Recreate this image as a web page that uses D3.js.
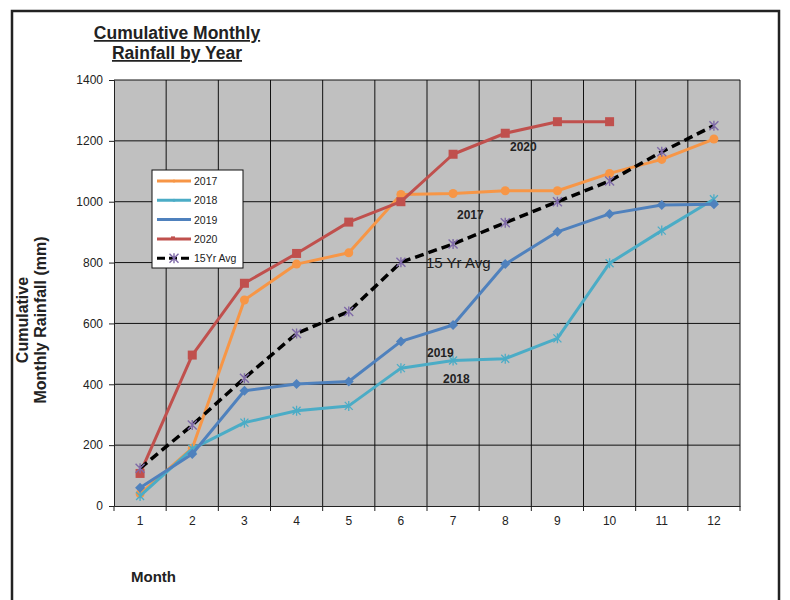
<!DOCTYPE html>
<html>
<head>
<meta charset="utf-8">
<script src="https://cdn.jsdelivr.net/npm/d3@7"></script>
<style>
  html, body { margin: 0; padding: 0; background: #fff; }
  svg { display: block; font-family: "Liberation Sans", Arial, sans-serif; }
</style>
</head>
<body>
<svg id="chart" width="790" height="600"></svg>
<script>
const months = [1, 2, 3, 4, 5, 6, 7, 8, 9, 10, 11, 12];
const yTicks = [0, 200, 400, 600, 800, 1000, 1200, 1400];
const s2017 = [40, 190, 677, 795, 832, 1024, 1027, 1036, 1036, 1093, 1139, 1206];
const s2018 = [33, 188, 274, 313, 329, 453, 478, 484, 551, 798, 905, 1008];
const s2019 = [60, 171, 379, 401, 409, 541, 595, 795, 901, 960, 989, 992];
const s2020 = [107, 496, 732, 830, 933, 1000, 1156, 1225, 1263, 1263, null, null];
const sAvg  = [124, 266, 420, 567, 639, 801, 861, 931, 1000, 1068, 1164, 1250];
const seriesNames = ["2017", "2018", "2019", "2020", "15Yr Avg"];

const series = [
  { name: seriesNames[0], values: s2017, color: "#F79646", marker: "circle", dash: null },
  { name: seriesNames[1], values: s2018, color: "#4BACC6", marker: "x", dash: null },
  { name: seriesNames[2], values: s2019, color: "#4F81BD", marker: "diamond", dash: null },
  { name: seriesNames[3], values: s2020, color: "#C0504D", marker: "square", dash: null },
  { name: seriesNames[4], values: sAvg, color: "#000000", marker: "star", dash: "9,5" }
];

const svg = d3.select("#chart");
const plot = { left: 114, right: 740, top: 80, bottom: 506 };

// outer frame
svg.append("rect").attr("x", 12).attr("y", 11).attr("width", 767).attr("height", 600)
  .attr("fill", "none").attr("stroke", "#222").attr("stroke-width", 2.5);

const x = d3.scaleBand().domain(months).range([plot.left, plot.right]);
const y = d3.scaleLinear().domain([0, 1400]).range([plot.bottom, plot.top]);

// plot background
svg.append("rect").attr("x", plot.left).attr("y", plot.top)
  .attr("width", plot.right - plot.left).attr("height", plot.bottom - plot.top)
  .attr("fill", "#C0C0C0");

// horizontal gridlines
svg.append("g").selectAll("line").data(yTicks.filter(d => d > 0)).join("line")
  .attr("x1", plot.left).attr("x2", plot.right)
  .attr("y1", d => y(d)).attr("y2", d => y(d))
  .attr("stroke", "#111").attr("stroke-width", 1);

// vertical gridlines at band boundaries
const bounds = months.map(m => x(m) + x.bandwidth());
svg.append("g").selectAll("line").data(bounds).join("line")
  .attr("x1", d => d).attr("x2", d => d)
  .attr("y1", plot.top).attr("y2", plot.bottom)
  .attr("stroke", "#111").attr("stroke-width", 1);

// y axis
const yAxis = svg.append("g").attr("transform", `translate(${plot.left},0)`)
  .call(d3.axisLeft(y).tickValues(yTicks).tickFormat(d3.format("d")).tickSize(5).tickPadding(6));
yAxis.select(".domain").attr("stroke", "#222");
yAxis.selectAll(".tick line").attr("stroke", "#222");
yAxis.selectAll("text").attr("font-size", 12).attr("fill", "#222")
  .attr("font-family", "Liberation Sans, Arial, sans-serif");

// x axis
const xAxis = svg.append("g").attr("transform", `translate(0,${plot.bottom})`)
  .call(d3.axisBottom(x).tickSize(0).tickPadding(10));
xAxis.select(".domain").attr("stroke", "#222");
xAxis.selectAll("text").attr("font-size", 12).attr("fill", "#222")
  .attr("font-family", "Liberation Sans, Arial, sans-serif");
// x tick marks at band boundaries
svg.append("g").selectAll("line").data([plot.left].concat(bounds)).join("line")
  .attr("x1", d => d).attr("x2", d => d)
  .attr("y1", plot.bottom).attr("y2", plot.bottom + 5)
  .attr("stroke", "#222");

const cx = m => x(m) + x.bandwidth() / 2;

function drawMarker(g, type, color, px, py) {
  if (type === "circle") {
    g.append("circle").attr("cx", px).attr("cy", py).attr("r", 4.5).attr("fill", color);
  } else if (type === "square") {
    g.append("rect").attr("x", px - 4.5).attr("y", py - 4.5).attr("width", 9).attr("height", 9).attr("fill", color);
  } else if (type === "diamond") {
    g.append("path").attr("d", `M${px},${py-5}L${px+5},${py}L${px},${py+5}L${px-5},${py}Z`).attr("fill", color);
  } else if (type === "x") {
    g.append("path").attr("d", `M${px-4},${py-4}L${px+4},${py+4}M${px-4},${py+4}L${px+4},${py-4}M${px},${py-5}L${px},${py+5}`)
      .attr("stroke", color).attr("stroke-width", 1.3).attr("fill", "none");
  } else if (type === "star") {
    g.append("path").attr("d", `M${px-4.5},${py-4.5}L${px+4.5},${py+4.5}M${px-4.5},${py+4.5}L${px+4.5},${py-4.5}M${px},${py-5}L${px},${py+5}`)
      .attr("stroke", "#7F6AA8").attr("stroke-width", 1.4).attr("fill", "none");
  }
}

const line = d3.line().defined(d => d.v != null).x(d => cx(d.m)).y(d => y(d.v));

series.forEach(s => {
  const pts = months.map((m, i) => ({ m, v: s.values[i] }));
  const g = svg.append("g");
  g.append("path").datum(pts).attr("d", line)
    .attr("fill", "none").attr("stroke", s.color)
    .attr("stroke-width", s.dash ? 3.5 : 3)
    .attr("stroke-dasharray", s.dash)
    .attr("stroke-linejoin", "round");
  pts.filter(p => p.v != null).forEach(p => drawMarker(g, s.marker, s.color, cx(p.m), y(p.v)));
});

// in-chart labels
const labels = [
  { t: "2020", x: 510, y: 151, bold: true, size: 12 },
  { t: "2017", x: 457, y: 219, bold: true, size: 12 },
  { t: "15 Yr Avg", x: 426, y: 268, bold: false, size: 15 },
  { t: "2019", x: 427, y: 357, bold: true, size: 12 },
  { t: "2018", x: 443, y: 383, bold: true, size: 12 }
];
svg.append("g").selectAll("text").data(labels).join("text")
  .attr("x", d => d.x).attr("y", d => d.y)
  .attr("font-size", d => d.size).attr("font-weight", d => d.bold ? "bold" : "normal")
  .attr("fill", "#222").text(d => d.t);

// legend
const lg = svg.append("g");
lg.append("rect").attr("x", 152).attr("y", 170).attr("width", 91).attr("height", 98)
  .attr("fill", "#fff").attr("stroke", "#111").attr("stroke-width", 1);
series.forEach((s, i) => {
  const ly = 181 + i * 19.3;
  lg.append("line").attr("x1", 157).attr("x2", 191).attr("y1", ly).attr("y2", ly)
    .attr("stroke", s.color).attr("stroke-width", 3).attr("stroke-dasharray", s.dash ? "8,4" : null);
  if (s.marker === "square") {
    lg.append("rect").attr("x", 171).attr("y", ly - 2.5).attr("width", 4).attr("height", 3).attr("fill", s.color);
  } else if (s.marker === "star") {
    drawMarker(lg, "star", s.color, 174, ly);
  } else {
    lg.append("circle").attr("cx", 174).attr("cy", ly).attr("r", 1.5).attr("fill", s.color);
  }
  lg.append("text").attr("x", 194).attr("y", ly + 4).attr("font-size", 10.5).attr("fill", "#222").text(s.name);
});

// title
const title = svg.append("text").attr("x", 177).attr("font-size", 17.5).attr("font-weight", "bold")
  .attr("text-anchor", "middle").attr("fill", "#222").attr("text-decoration", "underline");
title.append("tspan").attr("x", 177).attr("y", 39).text("Cumulative Monthly");
title.append("tspan").attr("x", 177).attr("y", 59).text("Rainfall by Year");

// y axis title
const yt = svg.append("text").attr("transform", "translate(0,320) rotate(-90)")
  .attr("text-anchor", "middle").attr("font-size", 16).attr("font-weight", "bold").attr("fill", "#222");
yt.append("tspan").attr("x", 0).attr("y", 28).text("Cumulative");
yt.append("tspan").attr("x", 0).attr("y", 46).text("Monthly Rainfall (mm)");

// x axis title
svg.append("text").attr("x", 131).attr("y", 582).attr("font-size", 15).attr("font-weight", "bold")
  .attr("fill", "#222").text("Month");
</script>
</body>
</html>
